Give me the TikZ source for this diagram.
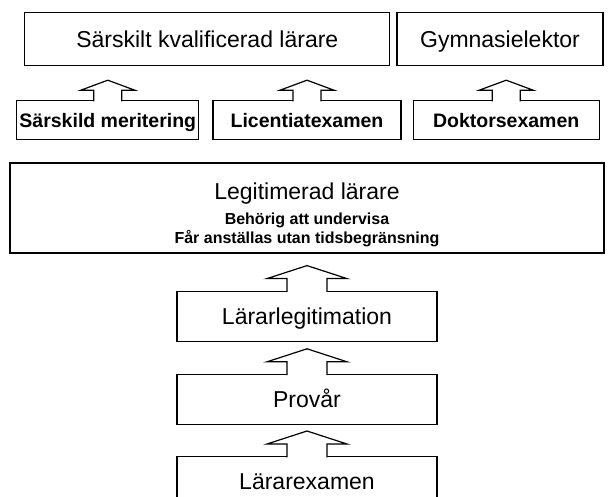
\documentclass[tikz,border=0pt]{standalone}
\usepackage{fontspec}
\setmainfont{Liberation Sans}
\usepackage{tikz}
\usetikzlibrary{positioning,calc}

\begin{document}
\begin{tikzpicture}[
  x=1pt, y=1pt,
  font=\fontsize{23}{26}\selectfont,
  node distance=22pt and 13pt,
  box/.style={
    rectangle, draw=black, line width=1.2pt, fill=white,
    inner sep=0pt, text height=16.5pt, text depth=0pt
  },
  titlebox/.style={box, minimum height=53pt},
  meritbox/.style={
    box, font=\fontsize{19.5}{22}\selectfont\bfseries,
    minimum height=39pt, text height=14pt
  },
  stepbox/.style={box, minimum width=260pt, minimum height=50pt},
  blockarrow/.style={draw=black, fill=white, line width=1.2pt}
]
  \useasboundingbox (0,0) rectangle (608,-497);

  % Legitimerad lärare
  \node[box, minimum width=594pt, minimum height=90pt, align=center,
        font=\fontsize{16}{20}\selectfont\bfseries,
        text height=74pt, text depth=2pt]
        (legit) at (307,-208) {
    {\fontsize{23}{24}\selectfont\mdseries Legitimerad lärare}\\[4pt]
    Behörig att undervisa\\
    Får anställas utan tidsbegränsning
  };

  % meriteringar
  \node[meritbox, minimum width=188pt, above=of legit] (licentiat) {Licentiatexamen};
  \node[meritbox, minimum width=182pt, left=of licentiat] (meritering) {Särskild meritering};
  \node[meritbox, minimum width=186pt, right=11pt of licentiat] (doktor) {Doktorsexamen};

  % titlar
  \node[titlebox, minimum width=365pt, above right=34pt and 8pt of meritering.north west]
        (kval) {Särskilt kvalificerad lärare};
  \node[titlebox, minimum width=206pt, right=6pt of kval] (lektor) {Gymnasielektor};

  % vägen till legitimation
  \node[stepbox, below=37pt of legit] (lararleg) {Lärarlegitimation};
  \node[stepbox, below=32pt of lararleg] (provar) {Provår};
  \node[stepbox, below=31pt of provar] (lararex) {Lärarexamen};

  % Pilar
  \foreach \lo/\hi/\sw/\hw/\hl/\tl in {
      meritering/kval/14pt/27pt/10pt/20pt,
      licentiat/kval/14pt/27pt/10pt/20pt,
      doktor/lektor/14pt/27pt/10pt/20pt,
      lararleg/legit/20pt/40pt/13pt/25pt,
      provar/lararleg/20pt/40pt/13pt/25pt,
      lararex/provar/20pt/40pt/13pt/25pt} {
    \coordinate (tip) at ($(\lo.north)!\tl!(\lo.north |- \hi.south)$);
    \draw[blockarrow] ($(\lo.north)+(-\sw,-1.3pt)$) |- ($(tip)+(-\hw,-\hl)$)
      -- (tip) -- ($(tip)+(\hw,-\hl)$) -| ($(\lo.north)+(\sw,-1.3pt)$);
  }

\end{tikzpicture}
\end{document}
